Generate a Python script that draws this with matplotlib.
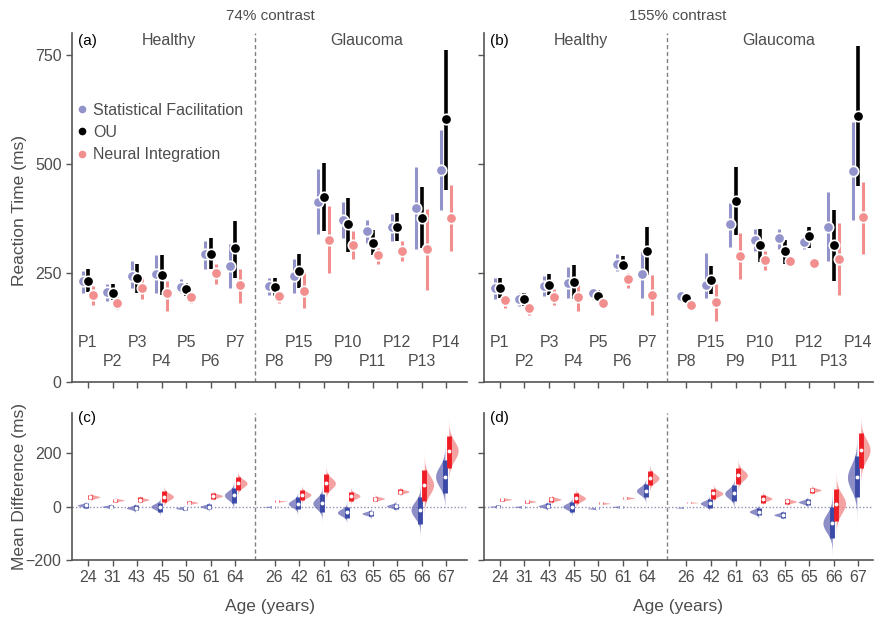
import numpy as np
import matplotlib
matplotlib.use("Agg")
import matplotlib.pyplot as plt
from matplotlib.lines import Line2D

plt.rcParams['font.family'] = ['Liberation Sans', 'DejaVu Sans']

# participants / ages (healthy first, then glaucoma)
labels = ["P1", "P2", "P3", "P4", "P5", "P6", "P7",
          "P8", "P15", "P9", "P10", "P11", "P12", "P13", "P14"]
ages = ["24", "31", "43", "45", "50", "61", "64",
        "26", "42", "61", "63", "65", "65", "66", "67"]

# reaction time, 74% contrast (mid, low, high)
sf74_mid = [231, 206, 242, 246, 218, 292, 265, 219, 242, 412, 371, 346, 355, 399, 485]
sf74_lo = [204, 185, 216, 204, 204, 258, 216, 200, 204, 338, 330, 319, 323, 305, 394]
sf74_hi = [254, 223, 277, 290, 235, 323, 317, 239, 282, 487, 412, 372, 384, 493, 577]
ou74_mid = [232, 203, 237, 245, 212, 294, 306, 217, 254, 424, 361, 319, 355, 375, 602]
ou74_lo = [206, 187, 204, 200, 196, 258, 239, 196, 216, 346, 297, 290, 323, 307, 440]
ou74_hi = [258, 223, 271, 290, 227, 329, 368, 239, 292, 502, 422, 347, 388, 447, 762]
ni74_mid = [199, 181, 214, 204, 195, 250, 221, 196, 209, 326, 313, 290, 300, 305, 375]
ni74_lo = [177, 166, 189, 162, 181, 223, 181, 181, 170, 250, 281, 269, 277, 210, 300]
ni74_hi = [219, 196, 239, 231, 208, 269, 259, 208, 250, 403, 346, 307, 323, 397, 451]

# reaction time, 155% contrast
sf155_mid = [214, 189, 219, 227, 203, 269, 246, 196, 222, 362, 326, 330, 320, 356, 484]
sf155_lo = [189, 174, 196, 193, 189, 254, 193, 192, 192, 310, 299, 304, 304, 276, 372]
sf155_hi = [239, 204, 242, 264, 216, 292, 300, 200, 295, 411, 350, 350, 335, 436, 595]
ou155_mid = [214, 189, 222, 229, 196, 268, 300, 191, 234, 414, 313, 299, 335, 313, 610]
ou155_lo = [193, 174, 198, 190, 185, 258, 244, 187, 202, 337, 274, 271, 307, 232, 448]
ou155_hi = [237, 204, 246, 267, 210, 288, 355, 195, 266, 492, 350, 325, 355, 394, 771]
ni155_mid = [187, 170, 195, 195, 181, 235, 200, 177, 182, 289, 279, 278, 272, 281, 377]
ni155_lo = [170, 154, 177, 162, 174, 216, 154, 172, 140, 236, 256, 275, 264, 200, 294]
ni155_hi = [200, 181, 212, 227, 189, 250, 244, 182, 224, 342, 300, 283, 283, 363, 459]

# mean differences (blue = SF, red = NI), 74% contrast
c_blue_mid = [5, 0, -5, 0, -6, 0, 42, -1, 11, 12, -22, -26, 2, -12, 112]
c_blue_lo = [-4, -7, -14, -20, -12, -10, 15, -4, -10, -22, -41, -37, -10, -66, 50]
c_blue_hi = [12, 5, 5, 15, 0, 9, 71, 2, 34, 46, 0, -16, 11, 34, 175]
c_red_mid = [36, 24, 26, 37, 15, 40, 87, 20, 44, 87, 40, 30, 56, 81, 209]
c_red_lo = [27, 18, 18, 18, 9, 30, 62, 17, 25, 55, 21, 21, 46, 21, 146]
c_red_hi = [44, 30, 34, 59, 21, 50, 112, 23, 62, 121, 55, 37, 65, 137, 265]

# mean differences, 155% contrast
d_blue_mid = [0, -1, 2, 0, -7, -1, 59, -4, 12, 49, -19, -31, 17, -62, 109]
d_blue_lo = [-4, -5, -7, -20, -11, -5, 34, -7, -4, 21, -32, -41, 5, -116, 34]
d_blue_hi = [4, 3, 12, 17, -3, 3, 84, -1, 27, 80, -4, -22, 27, 0, 190]
d_red_mid = [27, 19, 27, 31, 12, 32, 106, 15, 49, 117, 30, 19, 62, 11, 212]
d_red_lo = [22, 14, 18, 12, 8, 27, 80, 13, 30, 84, 15, 9, 52, -54, 146]
d_red_hi = [32, 24, 36, 50, 16, 37, 134, 17, 65, 146, 42, 27, 71, 65, 277]

PURPLE = "#9393cb"
PINK = "#f28e8e"
GREY = "#555555"
TXT = "#4d4d4d"

# x positions: healthy 0..6, glaucoma shifted after a gap
xpos = np.array(list(range(7)) + [7.6 + i for i in range(8)])
xsplit = 6.8

W, H = 876, 619


def frac(l, t, r, b):
    return [l / W, 1 - b / H, (r - l) / W, (b - t) / H]


fig = plt.figure(figsize=(8.76, 6.19), dpi=100)
axA = fig.add_axes(frac(72, 33, 467, 381.7))
axB = fig.add_axes(frac(484, 33, 873, 381.7))
axC = fig.add_axes(frac(72, 413, 467, 560))
axD = fig.add_axes(frac(484, 413, 873, 560))


def style(ax, xmax):
    for s in ["top", "right"]:
        ax.spines[s].set_visible(False)
    for s in ["left", "bottom"]:
        ax.spines[s].set_color(GREY)
        ax.spines[s].set_linewidth(1.2)
    ax.tick_params(colors=GREY, labelcolor=TXT, labelsize=11.5, length=4, width=1)
    ax.set_xlim(-0.65, xmax)
    ax.axvline(xsplit, color="#808080", ls=(0, (3, 2)), lw=1)


def top_panel(ax, data, tag, xmax):
    style(ax, xmax)
    offs = [-0.22, 0.0, 0.2]
    cols = [PURPLE, "black", PINK]
    lws = [2.2, 2.6, 2.2]
    for (mid, lo, hi), o, c, lw in zip(data, offs, cols, lws):
        x = xpos + o
        ax.vlines(x, lo, hi, color=c, lw=lw, zorder=2)
        ax.plot(x, mid, "o", color=c, ms=7.5, mec="white", mew=1.2, zorder=3)
    for i, lab in enumerate(labels):
        ax.text(xpos[i], 90 if i % 2 == 0 else 46, lab, ha="center", va="center",
                fontsize=11.5, color=TXT)
    ax.set_ylim(0, 800)
    ax.set_yticks([0, 250, 500, 750])
    ax.set_xticks(xpos)
    ax.set_xticklabels([])
    ax.text(-0.4, 782, tag, ha="left", va="center", fontsize=11, color="black")
    ax.text(3.3, 782, "Healthy", ha="center", va="center", fontsize=11.5, color=TXT)
    ax.text(11.37, 782, "Glaucoma", ha="center", va="center", fontsize=11.5, color=TXT)


def half_violin(ax, x, mid, lo, hi, side, fill, dark):
    sd = max((hi - lo) / 2 * 0.6, 1.5)
    y = np.linspace(mid - 4 * sd, mid + 4 * sd, 120)
    dens = np.exp(-0.5 * ((y - mid) / sd) ** 2)
    w = 0.38 * dens
    if side < 0:
        ax.fill_betweenx(y, x - w, x, color=fill, lw=0, alpha=0.8, zorder=2)
    else:
        ax.fill_betweenx(y, x, x + w, color=fill, lw=0, alpha=0.8, zorder=2)
    ax.vlines(x, lo, hi, color=dark, lw=3.5, zorder=3)
    ax.plot(x, mid, "o", color="white", ms=2.8, mew=0, zorder=4)


def bottom_panel(ax, blue, red, tag, xmax):
    style(ax, xmax)
    ax.axhline(0, color="#8f8fb5", ls=(0, (1, 1.5)), lw=1, zorder=1)
    for i in range(len(xpos)):
        half_violin(ax, xpos[i] - 0.06, blue[0][i], blue[1][i], blue[2][i], -1,
                    "#7272ba", "#3a4aa6")
        half_violin(ax, xpos[i] + 0.1, red[0][i], red[1][i], red[2][i], 1,
                    "#f28a8a", "#ee1c25")
    ax.set_ylim(-200, 350)
    ax.set_yticks([-200, 0, 200])
    ax.set_xticks(xpos)
    ax.set_xticklabels(ages)
    ax.text(-0.4, 330, tag, ha="left", va="center", fontsize=11, color="black")


top_panel(axA, [(sf74_mid, sf74_lo, sf74_hi), (ou74_mid, ou74_lo, ou74_hi),
                (ni74_mid, ni74_lo, ni74_hi)], "(a)", 15.44)
top_panel(axB, [(sf155_mid, sf155_lo, sf155_hi), (ou155_mid, ou155_lo, ou155_hi),
                (ni155_mid, ni155_lo, ni155_hi)], "(b)", 15.2)
bottom_panel(axC, (c_blue_mid, c_blue_lo, c_blue_hi), (c_red_mid, c_red_lo, c_red_hi), "(c)", 15.44)
bottom_panel(axD, (d_blue_mid, d_blue_lo, d_blue_hi), (d_red_mid, d_red_lo, d_red_hi), "(d)", 15.2)
axB.set_yticklabels([])
axD.set_yticklabels([])

handles = [Line2D([], [], ls="", marker="o", color=c, ms=4.5)
           for c in [PURPLE, "black", PINK]]
axA.legend(handles, ["Statistical Facilitation", "OU", "Neural Integration"],
           loc="upper left", bbox_to_anchor=(0.0, 0.818), frameon=False,
           fontsize=11.5, handlelength=0.5, handletextpad=0.4, labelspacing=0.45,
           borderaxespad=0, labelcolor=TXT)

fig.text(270 / W, 1 - 16 / H, "74% contrast", ha="center", va="center", fontsize=11, color=TXT)
fig.text(678 / W, 1 - 16 / H, "155% contrast", ha="center", va="center", fontsize=11, color=TXT)
fig.text(20 / W, 1 - 210 / H, "Reaction Time (ms)", rotation=90, ha="center", va="center",
         fontsize=12.5, color=TXT)
fig.text(20 / W, 1 - 487 / H, "Mean Difference (ms)", rotation=90, ha="center", va="center",
         fontsize=12.5, color=TXT)
fig.text(270 / W, 1 - 606 / H, "Age (years)", ha="center", va="center", fontsize=12.5, color=TXT)
fig.text(678 / W, 1 - 606 / H, "Age (years)", ha="center", va="center", fontsize=12.5, color=TXT)

fig.savefig("out.png", dpi=100)
